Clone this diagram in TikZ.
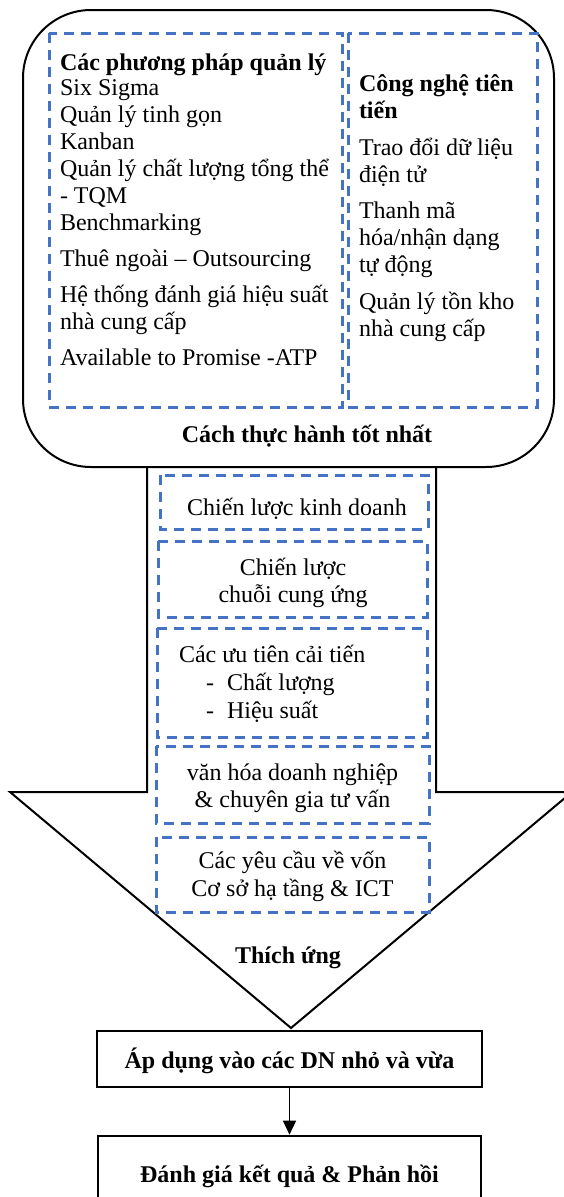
\documentclass[tikz,border=0pt]{standalone}
\usepackage{fontspec}
\setmainfont{Liberation Serif}
\usetikzlibrary{arrows.meta}
\definecolor{dashblue}{RGB}{68,114,196}
\tikzstyle{every path}=[line width=2pt]
\tikzstyle{dashbox}=[draw=dashblue, line width=3pt, dash pattern=on 10pt off 7pt]
\tikzstyle{bodytext}=[inner sep=0pt, font=\fontsize{24}{27}\selectfont]
\tikzstyle{boldtext}=[inner sep=0pt, font=\fontsize{24}{27}\selectfont\bfseries]
\tikzstyle{flowbox}=[draw, line width=2.6pt, font=\fontsize{24}{27}\selectfont\bfseries, text height=20pt, text depth=2pt]

\begin{document}
\begin{tikzpicture}[x=1pt, y=-1pt]
            \useasboundingbox (0,0) rectangle (564,1197);

            % best practices
            \draw[rounded corners=68pt] (23,10) rectangle (554,467);
            \draw[dashbox] (49,33) rectangle (342,407);
            \draw[dashbox] (348,33) rectangle (537,407);

            \node[boldtext, anchor=base west] (methods) at (59,70) {Các phương pháp quản lý};
            \foreach \y/\txt in {95/Six Sigma, 122/Quản lý tinh gọn, 149/Kanban,
                176/Quản lý chất lượng tổng thể, 203/- TQM, 230/Benchmarking,
                266/Thuê ngoài – Outsourcing, 302/Hệ thống đánh giá hiệu suất,
                329/nhà cung cấp, 365/Available to Promise -ATP}
                \node[bodytext, anchor=base west] (method\y) at (59,\y) {\txt};

            \node[boldtext, anchor=base west] (tech) at (358,91) {Công nghệ tiên};
            \node[boldtext, anchor=base west] (tech2) at (358,118) {tiến};
            \foreach \y/\txt in {155/Trao đổi dữ liệu, 182/điện tử, 218/Thanh mã,
                245/{hóa/nhận dạng}, 272/tự động, 309/Quản lý tồn kho, 336/nhà cung cấp}
                \node[bodytext, anchor=base west] (tech\y) at (358,\y) {\txt};

            \node[boldtext, anchor=base] (best) at (307,442) {Cách thực hành tốt nhất};

            % adaptation arrow
            \draw (147,467) -- (147,792) -- (10,792) -- (291,1028)
                -- (572,792) -- (436,792) -- (436,467);

            \draw[dashbox] (160,475) rectangle (428,529);
            \draw[dashbox] (158,541) rectangle (427,617);
            \draw[dashbox] (157,628) rectangle (427,737);
            \draw[dashbox] (156,746) rectangle (429,823);
            \draw[dashbox] (156,837) rectangle (429,912);

            \node[bodytext, anchor=base] (business) at (297,515) {Chiến lược kinh doanh};
            \node[bodytext, anchor=base] (supply) at (293,575) {Chiến lược};
            \node[bodytext, anchor=base] (supply2) at (293,602) {chuỗi cung ứng};
            \node[bodytext, anchor=base west] (prio) at (178,662) {Các ưu tiên cải tiến};
            \node[bodytext, anchor=base west] (dashq) at (205,690) {-};
            \node[bodytext, anchor=base west] (quality) at (226,690) {Chất lượng};
            \node[bodytext, anchor=base west] (dashp) at (205,718) {-};
            \node[bodytext, anchor=base west] (perf) at (226,718) {Hiệu suất};
            \node[bodytext, anchor=base] (culture) at (292.5,780) {văn hóa doanh nghiệp};
            \node[bodytext, anchor=base] (culture2) at (292.5,807) {\& chuyên gia tư vấn};
            \node[bodytext, anchor=base] (capital) at (292.5,868) {Các yêu cầu về vốn};
            \node[bodytext, anchor=base] (capital2) at (292.5,896) {Cơ sở hạ tầng \& ICT};

            \node[boldtext, anchor=base] (adapt) at (288,963) {Thích ứng};

            % application and feedback
            \node[flowbox, minimum width=385pt, minimum height=56pt] (apply) at (289.5,1059)
                {Áp dụng vào các DN nhỏ và vừa};
            \node[flowbox, minimum width=383pt, minimum height=74pt] (eval) at (289.5,1173)
                {Đánh giá kết quả \& Phản hồi};
            \draw[-{Triangle[length=14pt,width=13pt]}, line width=1.2pt] (apply) -- (eval);
        \end{tikzpicture}
\end{document}
